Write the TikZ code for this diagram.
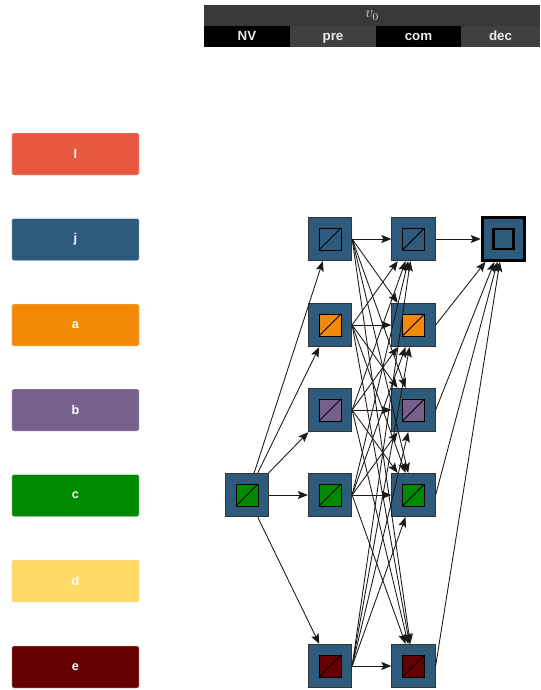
\documentclass[tikz,border=0pt]{standalone}
\usepackage{fontspec}
\setmainfont{Liberation Sans}
\usepackage{xcolor}
\usetikzlibrary{positioning,calc,arrows.meta}

\definecolor{lred}{HTML}{E8573F}
\definecolor{jblue}{HTML}{2E5A7C}
\definecolor{aorange}{HTML}{F28A05}
\definecolor{bpurple}{HTML}{77608C}
\definecolor{cgreen}{HTML}{008A00}
\definecolor{dyellow}{HTML}{FFD966}
\definecolor{ered}{HTML}{660000}

\tikzset{
    hdr/.style={inner sep=0pt, outer sep=0pt, minimum height=15.75pt, text=white!92!black,
        text height=7.4pt, text depth=0.8pt, font=\bfseries\fontsize{10}{12}\selectfont},
    tag/.style={rounded corners=1.5pt, draw=white!80!gray, line width=0.3pt, minimum width=95.5pt,
        minimum height=31.5pt, inner sep=0pt, text=white, font=\bfseries\fontsize{9.5}{11}\selectfont},
    cell/.style={draw=black!80, fill=jblue, minimum size=32.5pt, inner sep=0pt, line width=0.7pt,
        path picture={
            \draw[draw=black, fill=#1, line width=0.75pt] ([shift={(-8.25pt,-8.25pt)}]path picture bounding box.center)
                rectangle ([shift={(8.25pt,8.25pt)}]path picture bounding box.center);
            \draw[draw=black, line width=0.75pt] ([shift={(-8.25pt,-8.25pt)}]path picture bounding box.center)
                -- ([shift={(8.25pt,8.25pt)}]path picture bounding box.center);
        }},
    cell/.default=jblue,
    sinkbox/.style={draw=black, fill=jblue, minimum size=32pt, inner sep=0pt, line width=2.2pt,
        path picture={
            \draw[draw=black, line width=2.2pt] ([shift={(-7.5pt,-7.5pt)}]path picture bounding box.center)
                rectangle ([shift={(7.5pt,7.5pt)}]path picture bounding box.center);
        }},
    edge/.style={line width=0.65pt, black!90, -{Stealth[length=7.5pt, width=6pt, inset=1.5pt]}}
}

\begin{document}
\begin{tikzpicture}[x=0.75pt, y=-0.75pt]
    \useasboundingbox (0,0) rectangle (540,690);

    % header
    \node[hdr, fill=black!78, minimum width=252pt, text=white!85!black, text height=6pt, text depth=2.5pt,
        font=\fontsize{12}{14}\selectfont] (v0) at (372,15.5) {$v_0$};
    \node[hdr, fill=black, minimum width=64.5pt] (nv) at (247,36.5) {NV};
    \node[hdr, fill=black!75, minimum width=64.5pt] (pre) at (333,36.5) {pre};
    \node[hdr, fill=black, minimum width=63.75pt] (com) at (418.5,36.5) {com};
    \node[hdr, fill=black!75, minimum width=59.25pt] (dec) at (500.5,36.5) {dec};

    % legend
    \node[tag, fill=lred] (l) at (75.5,154) {l};
    \node[tag, fill=jblue] (j) at (75.5,239.5) {j};
    \node[tag, fill=aorange] (a) at (75.5,325) {a};
    \node[tag, fill=bpurple] (b) at (75.5,410) {b};
    \node[tag, fill=cgreen] (c) at (75.5,495.5) {c};
    \node[tag, fill=dyellow] (d) at (75.5,581) {d};
    \node[tag, fill=ered] (e) at (75.5,667) {e};

    % graph
    \node[cell=cgreen] (src) at (247,495) {};

    \node[cell] (pre-j) at (330,239) {};
    \node[cell=aorange] (pre-a) at (330,325) {};
    \node[cell=bpurple] (pre-b) at (330,410) {};
    \node[cell=cgreen] (pre-c) at (330,495) {};
    \node[cell=ered] (pre-e) at (330,666) {};

    \node[cell] (com-j) at (413.5,239) {};
    \node[cell=aorange] (com-a) at (413.5,325) {};
    \node[cell=bpurple] (com-b) at (413.5,410) {};
    \node[cell=cgreen] (com-c) at (413.5,495) {};
    \node[cell=ered] (com-e) at (413.5,666) {};

    \node[sinkbox] (fin) at (503.5,239) {};

    \foreach \r in {j,a,b,c,e}
        \draw[edge] (src) -- (pre-\r);
    \foreach \r in {j,a,b,c,e}
        \foreach \s in {j,a,b,c,e}
            \draw[edge] (pre-\r.east) -- (com-\s);
    \foreach \s in {j,a,b,c,e}
        \draw[edge] (com-\s.east) -- (fin);
\end{tikzpicture}
\end{document}
